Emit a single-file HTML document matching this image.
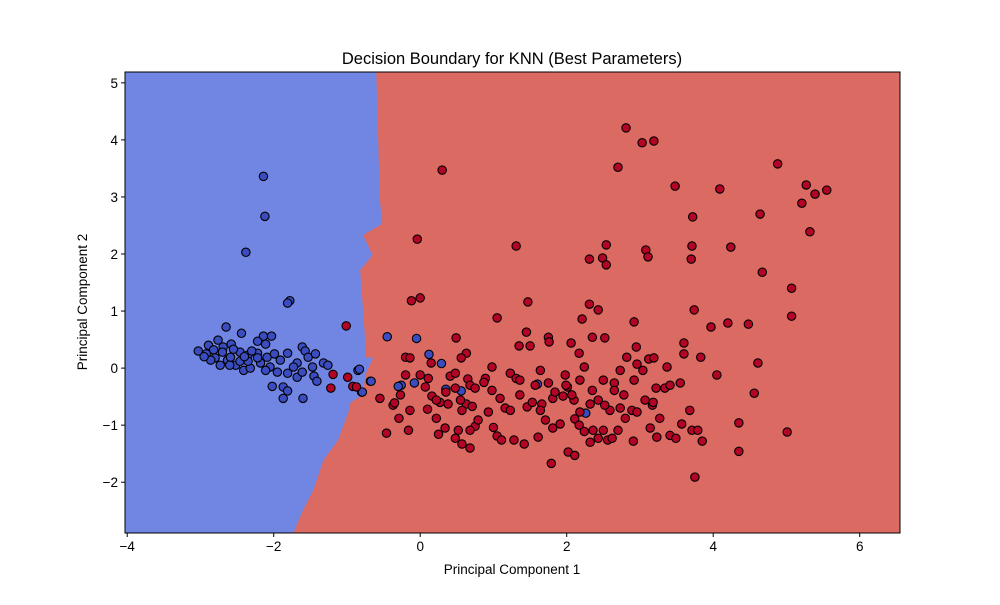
<!DOCTYPE html>
<html><head><meta charset="utf-8"><style>
body{margin:0;background:#fff;}
svg text{font-family:"Liberation Sans","DejaVu Sans",sans-serif;fill:#000;}
</style></head><body>
<svg id="chart" width="1000" height="600" xmlns="http://www.w3.org/2000/svg">
<rect width="1000" height="600" fill="#fff"/>
<g id="plot"></g>
<text x="512" y="64" font-size="16.5" text-anchor="middle">Decision Boundary for KNN (Best Parameters)</text>
<text x="512" y="574" font-size="13.5" text-anchor="middle">Principal Component 1</text>
<text transform="translate(87,302) rotate(-90)" font-size="13.5" text-anchor="middle">Principal Component 2</text>
</svg>
<script>
const xTicks=[-4,-2,0,2,4,6];
const yTicks=[-2,-1,0,1,2,3,4,5];
const boundaryX=[-0.60,-0.55,-0.52,-0.78,-0.65,-0.82,-0.79,-0.75,-0.74,-0.64,-0.75,-0.78,-0.95,-0.98,-1.12,-1.32,-1.46,-1.60,-1.73];
const boundaryY=[5.19,2.95,2.53,2.33,1.98,1.72,1.19,0.49,0.18,0.19,-0.12,-0.47,-0.60,-0.77,-1.26,-1.61,-2.14,-2.49,-2.89];
const redX=[2.81,3.03,3.19,2.70,4.88,3.48,4.09,5.27,5.55,5.39,5.21,0.30,3.72,4.64,5.32,-0.04,1.31,2.54,3.08,3.71,4.24,3.11,2.31,2.49,2.54,3.70,4.67,5.07,0.00,-0.12,1.47,3.74,2.31,2.43,5.07,1.05,2.21,2.92,4.20,4.48,3.97,-1.01,1.45,0.49,2.35,2.52,1.75,3.60,2.06,1.35,1.50,1.76,2.95,2.17,0.63,0.56,3.60,-0.20,-0.14,2.82,3.12,3.19,4.61,3.83,0.15,2.96,2.24,0.98,1.64,
1.23,1.31,1.36,1.57,1.75,2.01,2.18,2.65,2.73,2.50,3.34,3.37,2.92,2.35,0.89,0.65,0.68,0.48,0.35,0.75,0.41,0.11,0.07,0.16,0.27,0.10,0.38,0.63,0.71,0.87,0.98,1.09,1.16,1.23,1.36,1.46,1.53,1.66,1.81,1.95,2.10,2.18,1.99,2.32,2.43,2.59,2.73,2.80,2.89,2.96,3.07,3.17,3.22,3.27,3.41,3.41,3.68,3.71,3.79,3.85,3.57,3.49,3.55,4.05,4.35,4.56,4.35,5.01,3.75,1.79,-0.14,-0.37,-0.46,-0.29,-0.16,0.25,0.34,0.48,0.57,0.68,0.75,1.00,1.05,1.28,1.42,1.61,1.71,1.81,1.91,2.11,2.17,2.24,2.36,2.43,2.56,2.62,2.70,2.91,3.14,3.23,2.02,2.11,2.32,2.50,0.00,-0.20,-0.27,-0.55,-0.35,0.55,0.57,0.22,0.93,0.79,1.11,0.68,0.22,0.48,0.52,1.64,1.84,1.98,2.07,2.52,3.04,3.18,2.65,2.78,
-1.19,-1.22,-0.99,-0.92,-0.87];
const redY=[4.21,3.95,3.98,3.52,3.58,3.19,3.14,3.21,3.12,3.05,2.89,3.47,2.65,2.70,2.39,2.26,2.14,2.16,2.07,2.14,2.12,1.95,1.91,1.93,1.81,1.91,1.68,1.40,1.23,1.18,1.16,1.02,1.12,1.02,0.91,0.88,0.86,0.81,0.79,0.77,0.72,0.74,0.63,0.53,0.54,0.53,0.54,0.44,0.44,0.39,0.39,0.46,0.37,0.26,0.26,0.18,0.25,0.19,0.18,0.19,0.16,0.18,0.09,0.19,0.09,0.07,0.02,0.02,-0.04,
-0.09,-0.18,-0.21,-0.30,-0.26,-0.33,-0.21,-0.26,-0.04,-0.21,-0.35,0.02,-0.21,-0.39,-0.18,-0.19,-0.30,-0.35,-0.42,-0.35,-0.14,-0.18,-0.33,-0.49,-0.60,-0.72,-0.63,-0.63,-0.67,-0.25,-0.39,-0.53,-0.70,-0.74,-0.47,-0.68,-0.60,-0.63,-0.53,-0.49,-0.56,-0.77,-0.30,-0.63,-0.56,-0.74,-0.70,-0.88,-0.74,-0.77,-0.56,-0.65,-0.35,-0.88,-1.18,-0.30,-0.74,-1.09,-1.09,-1.28,-0.98,-1.23,-0.26,-0.12,-0.96,-0.44,-1.46,-1.12,-1.91,-1.67,-0.74,-0.65,-1.14,-0.88,-1.09,-1.16,-1.05,-1.23,-1.33,-1.40,-1.02,-1.04,-1.19,-1.26,-1.33,-1.21,-0.91,-1.05,-0.98,-0.89,-1.00,-1.11,-1.09,-1.23,-1.26,-1.23,-1.09,-1.28,-1.05,-1.21,-1.47,-1.53,-1.30,-1.09,-0.12,-0.12,-0.47,-0.53,-0.61,-0.56,-0.74,-0.88,-0.77,-0.91,-1.26,-1.09,-0.56,-0.09,-1.09,-0.74,-0.42,-0.12,-0.47,-0.65,-0.04,-0.60,-0.39,-0.47,
-0.11,-0.35,-0.16,-0.32,-0.33];
const blueX=[-2.14,-2.12,-2.38,-1.78,-1.81,-0.45,-0.05,0.12,0.29,-0.68,-0.80,-0.85,-0.26,-0.08,0.35,0.56,1.60,2.26,-0.30,
-2.65,-2.44,-2.14,-2.03,-2.22,-2.11,-2.76,-2.89,-3.03,-2.92,-2.82,-2.69,-2.58,-2.46,-2.35,-2.22,-2.09,-1.99,-1.91,-1.81,-1.68,-1.61,-1.57,-1.53,-1.43,-1.32,-1.26,-1.47,-1.45,-1.41,-1.87,-1.81,-1.87,-1.60,-2.02,-2.80,-2.63,-2.52,-2.41,-2.32,-2.18,-2.05,-1.95,-1.81,-1.68,-2.73,-2.86,-2.59,-2.46,-2.35,-2.22,-2.11,-1.73,-1.61,-0.83,-0.67,-0.79,-2.95,-2.70,-2.55,-2.40,-2.60,-2.30];
const blueY=[3.36,2.66,2.03,1.18,1.14,0.55,0.52,0.24,0.08,-0.23,-0.42,-0.04,-0.30,-0.26,-0.37,-0.40,-0.28,-0.79,-0.32,
0.72,0.61,0.56,0.56,0.47,0.42,0.49,0.40,0.30,0.25,0.32,0.37,0.42,0.28,0.23,0.26,0.19,0.25,0.14,0.26,0.09,0.37,0.30,0.19,0.25,0.09,0.05,0.02,-0.14,-0.23,-0.33,-0.40,-0.53,-0.53,-0.32,0.18,0.14,0.05,-0.04,0.00,0.09,0.02,-0.07,-0.09,-0.16,0.05,0.14,0.19,0.12,0.12,0.18,-0.04,0.02,-0.07,-0.02,-0.23,-0.42,0.20,0.28,0.33,0.20,0.05,0.30];

const L=125,R=900,T=72,B=533,xmin=-4.03,xmax=6.55,ymin=-2.89,ymax=5.19;
const sx=v=>L+(v-xmin)/(xmax-xmin)*(R-L);
const sy=v=>B-(v-ymin)/(ymax-ymin)*(B-T);
const NS='http://www.w3.org/2000/svg';
const g=document.getElementById('plot');
function mk(tag,attrs){const e=document.createElementNS(NS,tag);for(const k in attrs)e.setAttribute(k,attrs[k]);g.appendChild(e);return e;}
let r=mk('rect',{x:L,y:T,width:R-L,height:B-T,fill:'#db6a62'});


let pts=[L+','+T];
for(let i=0;i<boundaryX.length;i++)pts.push(sx(boundaryX[i])+','+sy(boundaryY[i]));
pts.push(L+','+B);
let poly=mk('polygon',{points:pts.join(' '),fill:'#7186e2'});


for(let i=0;i<blueX.length;i++){
 const c=mk('circle',{cx:sx(blueX[i]),cy:sy(blueY[i]),r:4.2,fill:'#3b4cc0',stroke:'#000','stroke-width':1.1});
 
 
}
for(let i=0;i<redX.length;i++){
 const c=mk('circle',{cx:sx(redX[i]),cy:sy(redY[i]),r:4.2,fill:'#b40426',stroke:'#000','stroke-width':1.1});
 
 
}
let fr=mk('rect',{x:L,y:T,width:R-L,height:B-T,fill:'none',stroke:'#000','stroke-width':1});


xTicks.forEach(v=>{
 const x=sx(v);
 const t=mk('line',{x1:x,x2:x,y1:B,y2:B+4,stroke:'#000'});
 
 
 const tx=mk('text',{x:x,y:B+18,'font-size':13.5,'text-anchor':'middle'});
 tx.textContent=v<0?'\u2212'+(-v):String(v);
 
 
});
yTicks.forEach(v=>{
 const y=sy(v);
 const t=mk('line',{x1:L-4,x2:L,y1:y,y2:y,stroke:'#000'});
 
 
 const tx=mk('text',{x:L-7,y:y+5,'font-size':13.5,'text-anchor':'end'});
 tx.textContent=v<0?'\u2212'+(-v):String(v);
 
 
});
</script>
</body></html>
